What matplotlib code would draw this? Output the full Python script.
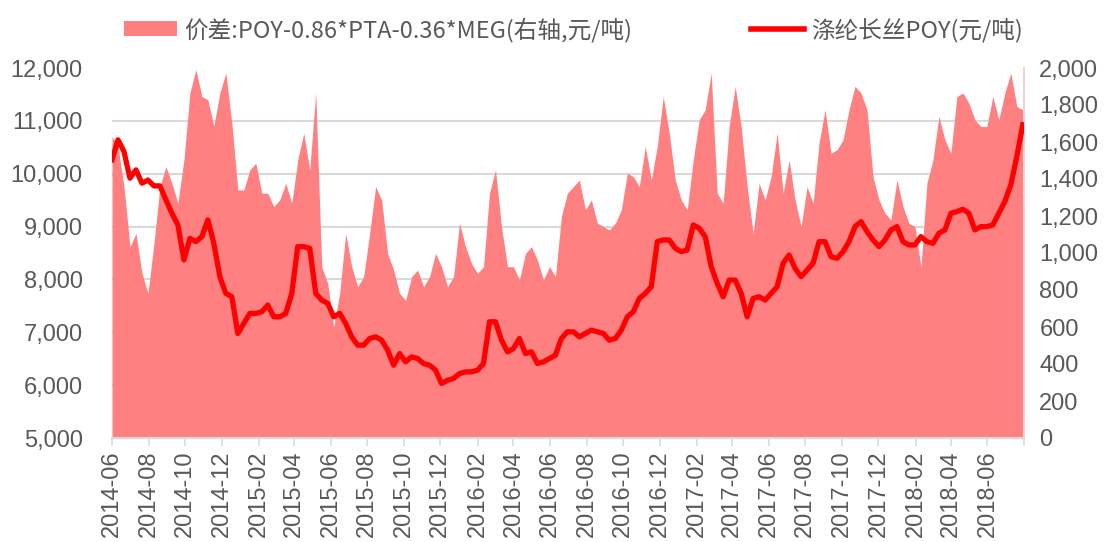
import matplotlib
matplotlib.use("Agg")
import matplotlib.pyplot as plt
import matplotlib.dates as mdates
from matplotlib.ticker import FuncFormatter, FixedLocator
from matplotlib.patches import Patch
from matplotlib.lines import Line2D
import pandas as pd

plt.rcParams['font.family'] = ['Liberation Sans', 'Noto Sans CJK SC', 'DejaVu Sans']

# ---- data (~10-day sampling) ----
start_date = "2014-06-01"
step = "10D"

poy_price = [  # 涤纶长丝POY (元/吨), left axis
    10263, 10642, 10420, 9915, 10073, 9820, 9880, 9770, 9770, 9505, 9252, 9030, 8368,
    8778, 8715, 8810, 9126, 8683, 8052, 7736, 7672, 6977, 7167, 7357, 7357, 7388,
    7515, 7293, 7293, 7357, 7736, 8620, 8620, 8589, 7736, 7609, 7546, 7293, 7357,
    7167, 6914, 6756, 6756, 6883, 6914, 6851, 6662, 6377, 6598, 6440, 6535, 6504,
    6409, 6377, 6283, 6030, 6093, 6125, 6219, 6251, 6251, 6283, 6409, 7199, 7199,
    6851, 6630, 6693, 6883, 6598, 6630, 6409, 6440, 6504, 6567, 6883, 7009,
    7009, 6914, 6977, 7041, 7009, 6977, 6851, 6883, 7041, 7293, 7388, 7641, 7736,
    7862, 8715, 8747, 8747, 8589, 8525, 8557, 9031, 8968, 8810, 8241, 7925,
    7672, 7988, 7988, 7736, 7293, 7641, 7672, 7609, 7736, 7862, 8304, 8462, 8209,
    8052, 8178, 8304, 8715, 8715, 8431, 8399, 8525, 8715, 8999, 9094, 8905, 8747,
    8620, 8747, 8936, 8999, 8715, 8652, 8652, 8810, 8715, 8683, 8873, 8936, 9252,
    9284, 9328, 9252, 8936, 8999, 8999, 9031, 9252, 9473, 9789, 10326, 10926,
]

spread = [  # 价差: POY-0.86*PTA-0.36*MEG (右轴, 元/吨)
    1630, 1576, 1359, 1034, 1106, 890, 782, 1052, 1359, 1467, 1377, 1269, 1503,
    1865, 1991, 1846, 1828, 1684, 1865, 1973, 1702, 1341, 1341, 1449, 1486, 1323,
    1323, 1251, 1287, 1377, 1269, 1503, 1648, 1449, 1865, 926, 836, 601, 782,
    1106, 926, 818, 872, 1106, 1359, 1287, 998, 908, 782, 745, 872, 908,
    818, 872, 998, 926, 818, 872, 1161, 1034, 944, 890, 926, 1323, 1449,
    1143, 926, 926, 854, 998, 1034, 962, 854, 926, 872, 1197, 1323,
    1359, 1395, 1233, 1287, 1161, 1143, 1125, 1161, 1233, 1431, 1413, 1359, 1576,
    1395, 1576, 1846, 1648, 1395, 1287, 1233, 1503, 1720, 1774, 1973, 1323,
    1269, 1684, 1901, 1684, 1359, 1106, 1377, 1287, 1413, 1648, 1323, 1503, 1287,
    1143, 1359, 1269, 1594, 1774, 1540, 1558, 1612, 1774, 1901, 1865, 1774, 1413,
    1287, 1215, 1179, 1395, 1251, 1161, 1143, 926, 1377, 1503, 1738, 1612, 1540,
    1846, 1865, 1810, 1720, 1684, 1684, 1846, 1720, 1865, 1973, 1792, 1774,
]

left_ticks = [5000, 6000, 7000, 8000, 9000, 10000, 11000, 12000]
right_ticks = [0, 200, 400, 600, 800, 1000, 1200, 1400, 1600, 1800, 2000]
x_start, x_end = "2014-06-01", "2018-08-01"
label_spread = "价差:POY-0.86*PTA-0.36*MEG(右轴,元/吨)"
label_poy = "涤纶长丝POY(元/吨)"

dates = pd.date_range(start_date, periods=len(poy_price), freq=step)

# ---- styling ----
W, H, DPI = 1110, 542, 100
fig = plt.figure(figsize=(W / DPI, H / DPI), dpi=DPI)
ax = fig.add_axes([112 / W, 1 - 438 / H, (1024 - 112) / W, (438 - 68) / H])
ax2 = ax.twinx()
ax.set_zorder(ax2.get_zorder() + 1)
ax.patch.set_visible(False)

area_color = '#FF8080'
line_color = '#FF0000'
grid_color = '#D9D9D9'
text_color = '#595959'

ax2.fill_between(dates, 0, spread, color=area_color, linewidth=0, zorder=2)
ax.plot(dates, poy_price, color=line_color, linewidth=3.8, solid_joinstyle='round', zorder=3)

lo, hi = left_ticks[0], left_ticks[-1]
r_lo, r_hi = right_ticks[0], right_ticks[-1]
ax.set_ylim(lo, hi)
ax2.set_ylim(r_lo, r_hi)
ax.set_xlim(pd.Timestamp(x_start), pd.Timestamp(x_end))

ax.set_yticks(left_ticks)
ax2.set_yticks(right_ticks)
fmt = FuncFormatter(lambda v, p: f"{int(v):,}")
ax.yaxis.set_major_formatter(fmt)
ax2.yaxis.set_major_formatter(fmt)

# gridlines at the left-axis ticks, drawn on the back axes so the area covers them
grid_pos = [(v - lo) / (hi - lo) * (r_hi - r_lo) + r_lo for v in left_ticks]
ax2.yaxis.set_minor_locator(FixedLocator(grid_pos))
ax2.grid(True, which='minor', axis='y', color=grid_color, linewidth=1.5, zorder=0)
ax2.set_axisbelow(True)
ax2.tick_params(axis='y', which='minor', length=0)

ax.xaxis.set_major_locator(mdates.MonthLocator(bymonth=[2, 4, 6, 8, 10, 12]))
ax.xaxis.set_major_formatter(mdates.DateFormatter('%Y-%m'))
for lbl in ax.get_xticklabels():
    lbl.set_rotation(90)
ax.tick_params(axis='x', length=6, width=1.2, color=grid_color, labelsize=17,
               labelcolor=text_color, pad=3)
ax.tick_params(axis='y', length=0, labelsize=17, labelcolor=text_color, pad=21)
ax2.tick_params(axis='y', which='major', length=0, labelsize=17, labelcolor=text_color, pad=11)
ax2.tick_params(axis='x', length=0)

for a in (ax, ax2):
    for s in ('top', 'left'):
        a.spines[s].set_visible(False)
    a.spines['bottom'].set_color(grid_color)
    a.spines['bottom'].set_linewidth(1.5)
    a.spines['right'].set_color('#F0D0D0')
    a.spines['right'].set_linewidth(1.2)

# hide the 2018-08 label at the right edge
fig.canvas.draw()
for tick, lbl in zip(ax.xaxis.get_major_locator()(), ax.get_xticklabels()):
    if mdates.num2date(tick).strftime('%Y-%m') == '2018-08':
        lbl.set_visible(False)

handles = [Patch(facecolor=area_color, edgecolor='none'),
           Line2D([0], [0], color=line_color, linewidth=4)]
fig.legend(handles, [label_spread, label_poy], ncol=2, frameon=False,
           loc='upper left', bbox_to_anchor=(103 / W, 1 + 4 / H),
           prop={'family': ['Noto Sans CJK SC', 'DejaVu Sans'], 'size': 17},
           labelcolor=text_color, handlelength=2.25, handletextpad=0.3,
           columnspacing=5.0, handleheight=0.6)

fig.savefig('out.png', dpi=DPI)
